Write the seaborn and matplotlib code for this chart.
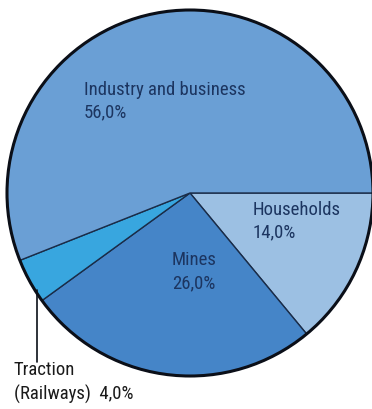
import matplotlib
matplotlib.use("Agg")
import matplotlib.pyplot as plt
from matplotlib.patches import Circle
import seaborn as sns

# Shares of electricity consumption (percent)
categories = ["Households", "Mines", "Traction (Railways)", "Industry and business"]
shares = [14.0, 26.0, 4.0, 56.0]
slice_colors = ["#9cc0e3", "#4585c8", "#38a6df", "#6a9fd5"]

sns.set_theme(style="white")
plt.rcParams["font.family"] = ["Roboto Condensed", "DejaVu Sans"]

W, H = 372, 409
fig = plt.figure(figsize=(W / 100, H / 100), dpi=100)
ax = fig.add_axes([0, 0, 1, 1])

def py(y):
    return H - y

cx, cy, r = 190, py(193), 183
ax.pie(shares, colors=slice_colors, startangle=0, counterclock=False,
       center=(cx, cy), radius=r, frame=True,
       wedgeprops=dict(edgecolor="#1a2c48", linewidth=1.0))
ax.set_xlim(0, W)
ax.set_ylim(0, H)
ax.set_aspect("equal")
ax.axis("off")
ax.add_patch(Circle((cx, cy), r, fill=False, edgecolor="#0b0f18", linewidth=2.2))

txt = "#1c3560"
fs = 13.5

def fmt(v):
    return f"{v:.1f}%".replace(".", ",")

ax.text(84, py(90), "Industry and business", color=txt, fontsize=fs, va="center", ha="left")
ax.text(84, py(112), fmt(shares[3]), color=txt, fontsize=fs, va="center", ha="left")
ax.text(253, py(210), "Households", color=txt, fontsize=fs, va="center", ha="left")
ax.text(253, py(232), fmt(shares[0]), color=txt, fontsize=fs, va="center", ha="left")
ax.text(194, py(260), "Mines", color=txt, fontsize=fs, va="center", ha="center")
ax.text(194, py(283), fmt(shares[1]), color=txt, fontsize=fs, va="center", ha="center")

# Leader line for the small slice
ax.plot([37, 37], [py(290), py(362)], color="#0b0f18", linewidth=1.2)
ax.text(14, py(370), "Traction", color="#1a1a1a", fontsize=fs, va="center", ha="left")
ax.text(14, py(394), "(Railways)  " + fmt(shares[2]), color="#1a1a1a", fontsize=fs,
        va="center", ha="left")

fig.savefig("out.png", dpi=100)
